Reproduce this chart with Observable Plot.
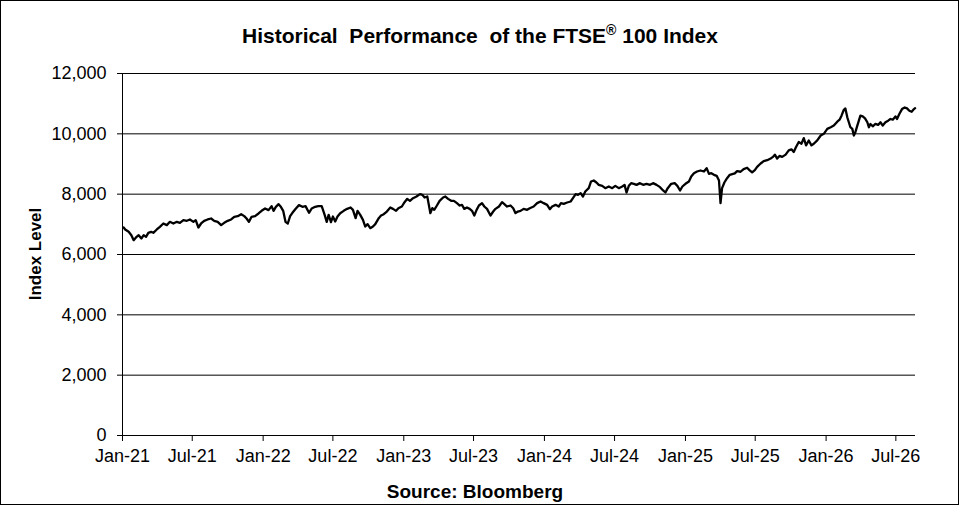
<!DOCTYPE html>
<html>
<head>
<meta charset="utf-8">
<script src="https://cdn.jsdelivr.net/npm/d3@7"></script>
<script src="https://cdn.jsdelivr.net/npm/@observablehq/plot@0.6"></script>
<style>
  html, body { margin: 0; padding: 0; background: #fff; }
  #chart { width: 959px; height: 505px; }
</style>
</head>
<body>
<div id="chart"></div>
<script>
const titleMain = "Historical  Performance  of the FTSE";
const titleSup = "®";
const titleEnd = " 100 Index";
const yLabel = "Index Level";
const caption = "Source: Bloomberg";

const yTicks = [0, 2000, 4000, 6000, 8000, 10000, 12000];
const xTickDates = ["2021-01-01","2021-07-01","2022-01-01","2022-07-01","2023-01-01","2023-07-01","2024-01-01","2024-07-01","2025-01-01","2025-07-01","2026-01-01","2026-07-01"];
const xDomain = ["2021-01-01", "2026-08-21"];

const dates = [
"2021-01-04","2021-01-08","2021-01-17","2021-01-24","2021-01-30","2021-02-05","2021-02-12","2021-02-19","2021-02-25","2021-03-03",
"2021-03-09","2021-03-16","2021-03-22","2021-03-31","2021-04-08","2021-04-17","2021-04-26","2021-05-04","2021-05-13","2021-05-22",
"2021-05-30","2021-06-08","2021-06-17","2021-06-25","2021-07-04","2021-07-10","2021-07-17","2021-07-24","2021-08-01","2021-08-10",
"2021-08-19","2021-08-27","2021-09-05","2021-09-14","2021-09-22","2021-10-01","2021-10-10","2021-10-18","2021-10-27","2021-11-05",
"2021-11-13","2021-11-19","2021-11-25","2021-12-02","2021-12-11","2021-12-20","2021-12-28","2022-01-06","2022-01-15","2022-01-23",
"2022-01-28","2022-02-03","2022-02-10","2022-02-16","2022-02-22","2022-02-28","2022-03-06","2022-03-12","2022-03-18","2022-03-27",
"2022-04-04","2022-04-13","2022-04-21","2022-04-30","2022-05-07","2022-05-16","2022-05-24","2022-06-02","2022-06-09","2022-06-15",
"2022-06-20","2022-06-26","2022-07-01","2022-07-07","2022-07-13","2022-07-20","2022-07-29","2022-08-07","2022-08-16","2022-08-22",
"2022-08-29","2022-09-03","2022-09-10","2022-09-17","2022-09-23","2022-09-29","2022-10-06","2022-10-13","2022-10-19","2022-10-28",
"2022-11-03","2022-11-10","2022-11-18","2022-11-27","2022-12-04","2022-12-12","2022-12-18","2022-12-27","2023-01-03","2023-01-10",
"2023-01-17","2023-01-25","2023-02-03","2023-02-12","2023-02-18","2023-02-24","2023-03-03","2023-03-07","2023-03-11","2023-03-16",
"2023-03-21","2023-03-28","2023-04-04","2023-04-13","2023-04-19","2023-04-26","2023-05-04","2023-05-11","2023-05-19","2023-05-26",
"2023-06-01","2023-06-07","2023-06-14","2023-06-21","2023-06-27","2023-07-03","2023-07-09","2023-07-15","2023-07-23","2023-07-29",
"2023-08-05","2023-08-14","2023-08-21","2023-08-27","2023-09-05","2023-09-13","2023-09-19","2023-09-26","2023-10-05","2023-10-12",
"2023-10-18","2023-10-24","2023-10-31","2023-11-08","2023-11-17","2023-11-24","2023-12-04","2023-12-13","2023-12-22","2023-12-30",
"2024-01-08","2024-01-15","2024-01-21","2024-01-30","2024-02-07","2024-02-13","2024-02-20","2024-02-29","2024-03-09","2024-03-15",
"2024-03-22","2024-03-28","2024-04-04","2024-04-10","2024-04-16","2024-04-25","2024-05-01","2024-05-08","2024-05-15","2024-05-21",
"2024-05-30","2024-06-07","2024-06-16","2024-06-25","2024-07-03","2024-07-12","2024-07-21","2024-07-27","2024-08-01","2024-08-07",
"2024-08-13","2024-08-20","2024-08-27","2024-09-05","2024-09-13","2024-09-22","2024-10-01","2024-10-09","2024-10-18","2024-10-27",
"2024-11-04","2024-11-10","2024-11-16","2024-11-25","2024-12-04","2024-12-11","2024-12-18","2024-12-24","2025-01-01","2025-01-10",
"2025-01-16","2025-01-23","2025-01-31","2025-02-09","2025-02-18","2025-02-25","2025-03-03","2025-03-09","2025-03-16","2025-03-23",
"2025-03-29","2025-04-02","2025-04-06","2025-04-12","2025-04-19","2025-04-26","2025-05-09","2025-05-15","2025-05-24","2025-06-01",
"2025-06-10","2025-06-16","2025-06-23","2025-06-30","2025-07-06","2025-07-15","2025-07-23","2025-08-01","2025-08-10","2025-08-16",
"2025-08-21","2025-08-27","2025-09-02","2025-09-09","2025-09-18","2025-09-26","2025-10-03","2025-10-09","2025-10-15","2025-10-22",
"2025-10-29","2025-11-04","2025-11-10","2025-11-17","2025-11-24","2025-11-30","2025-12-09","2025-12-18","2025-12-26","2026-01-04",
"2026-01-13","2026-01-21","2026-01-30","2026-02-05","2026-02-10","2026-02-16","2026-02-20","2026-02-25","2026-03-01","2026-03-05",
"2026-03-10","2026-03-14","2026-03-18","2026-03-23","2026-03-27","2026-03-31","2026-04-06","2026-04-12","2026-04-18","2026-04-22",
"2026-04-26","2026-05-02","2026-05-09","2026-05-16","2026-05-22","2026-05-28","2026-06-04","2026-06-11","2026-06-17","2026-06-23",
"2026-06-30","2026-07-04","2026-07-10","2026-07-17","2026-07-24","2026-07-30","2026-08-05","2026-08-11","2026-08-17","2026-08-20"
];

const values = [
6895,6829,6752,6641,6476,6564,6641,6531,6641,6586,
6719,6752,6719,6829,6918,7028,6973,7083,7028,7083,
7050,7139,7117,7161,7083,7139,6895,7028,7117,7161,
7194,7117,7083,6973,7050,7117,7161,7249,7271,7337,
7271,7194,7083,7249,7271,7360,7448,7525,7470,7603,
7448,7581,7669,7581,7448,7083,7028,7271,7382,7525,
7636,7581,7603,7382,7525,7581,7603,7603,7337,7083,
7315,7071,7259,7094,7259,7370,7447,7513,7558,7480,
7204,7447,7315,7149,6928,7005,6873,6928,7005,7204,
7292,7337,7425,7558,7513,7447,7535,7591,7734,7845,
7779,7867,7922,8000,7978,7889,7922,7646,7370,7536,
7480,7624,7779,7889,7922,7845,7779,7779,7701,7624,
7646,7513,7558,7513,7447,7292,7480,7624,7701,7591,
7513,7292,7425,7513,7591,7734,7668,7591,7624,7535,
7370,7425,7447,7513,7480,7535,7591,7702,7757,7702,
7646,7503,7591,7646,7591,7702,7680,7724,7757,7867,
8000,7978,8033,7922,8088,8199,8420,8453,8387,8309,
8276,8199,8254,8199,8276,8199,8254,8309,8055,8276,
8365,8343,8309,8365,8309,8343,8309,8365,8309,8232,
8122,8055,8199,8343,8365,8276,8122,8254,8343,8420,
8586,8696,8751,8785,8751,8862,8674,8696,8641,8608,
8453,7702,8199,8387,8530,8641,8688,8765,8743,8831,
8875,8798,8721,8798,8907,9016,9093,9125,9180,9235,
9311,9180,9268,9235,9311,9453,9486,9399,9563,9727,
9672,9858,9617,9781,9617,9672,9781,9945,10000,10164,
10219,10273,10404,10470,10601,10798,10842,10546,10383,10219,
10164,9945,10055,10273,10437,10601,10579,10514,10383,10219,
10328,10251,10328,10295,10383,10273,10383,10437,10492,10470,
10579,10492,10655,10820,10874,10842,10765,10732,10820,10850
];

const parse = d3.utcParse("%Y-%m-%d");
const data = dates.map((d, i) => ({date: parse(d), value: values[i]}));
const xTicks = xTickDates.map(parse);
const domainX = xDomain.map(parse);

const plot = Plot.plot({
  width: 959,
  height: 505,
  marginLeft: 122,
  marginRight: 44,
  marginTop: 73,
  marginBottom: 70,
  style: {fontFamily: "'Liberation Sans', Arial, sans-serif", fontSize: "18px", color: "#000", background: "#fff", overflow: "visible"},
  x: {type: "utc", domain: domainX},
  y: {domain: [0, 12000]},
  marks: [
    Plot.ruleY(yTicks.filter(d => d > 0), {stroke: "#000", strokeWidth: 1}),
    Plot.axisY({ticks: yTicks, tickSize: 5, tickPadding: 11, tickFormat: d3.format(","), label: null, stroke: "#000", fill: "#000", fontSize: 18}),
    Plot.axisX({ticks: xTicks, tickSize: 6, tickPadding: 8, tickFormat: d3.utcFormat("%b-%y"), label: null, stroke: "#000", fill: "#000", fontSize: 18}),
    Plot.ruleX([domainX[0]], {y1: 0, y2: 12000, stroke: "#000", strokeWidth: 1}),
    Plot.ruleY([0], {stroke: "#000", strokeWidth: 1}),
    Plot.lineY(data, {x: "date", y: "value", stroke: "#000", strokeWidth: 2.3})
  ]
});

const svg = d3.select(plot);
svg.append("rect").attr("x", 0.5).attr("y", 0.5).attr("width", 958).attr("height", 504)
  .attr("fill", "none").attr("stroke", "#000").attr("stroke-width", 1);

const t = svg.append("text").attr("x", 480).attr("y", 43).attr("text-anchor", "middle")
  .attr("font-weight", "bold").attr("font-size", 21).attr("fill", "#000")
  .style("white-space", "pre").attr("xml:space", "preserve");
t.append("tspan").text(titleMain);
t.append("tspan").attr("font-size", 14).attr("dy", -8).text(titleSup);
t.append("tspan").attr("dy", 8).text(titleEnd);

svg.append("text").attr("transform", "translate(41,254) rotate(-90)").attr("text-anchor", "middle")
  .attr("font-weight", "bold").attr("font-size", 17).attr("fill", "#000").text(yLabel);

svg.append("text").attr("x", 475).attr("y", 498).attr("text-anchor", "middle")
  .attr("font-weight", "bold").attr("font-size", 19).attr("fill", "#000").text(caption);

document.getElementById("chart").appendChild(plot);
</script>
</body>
</html>
